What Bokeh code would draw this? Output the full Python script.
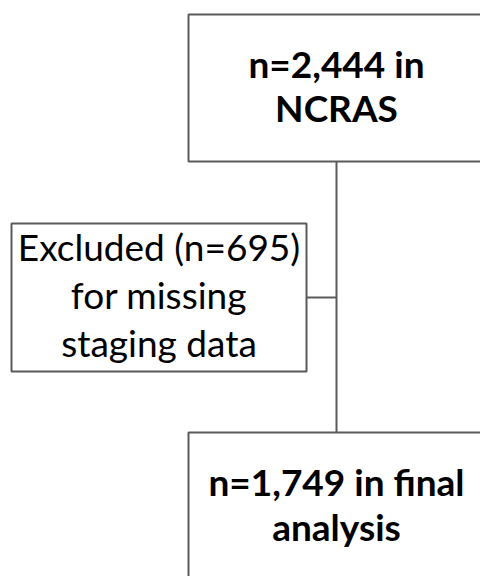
from bokeh.plotting import figure
from bokeh.models import Range1d
from bokeh.core.properties import value
from bokeh.embed import file_html
from bokeh.resources import INLINE

# Data
n_total = 2444
n_excluded = 695
n_final = 1749
source_name = "NCRAS"

top_lines = [f"n={n_total:,} in", source_name]
left_lines = [f"Excluded (n={n_excluded})", "for missing", "staging data"]
bottom_lines = [f"n={n_final:,} in final", "analysis"]

W, H = 480, 576
p = figure(width=W, height=H, output_backend="svg", toolbar_location=None,
           x_range=Range1d(0, W), y_range=Range1d(H, 0),
           min_border=0, outline_line_color=None)
p.axis.visible = False
p.grid.visible = False
p.background_fill_color = "white"
p.border_fill_color = "white"

LC = "#5a5a5a"
LW = 2

# connectors
p.segment(x0=[336, 306], y0=[161, 297], x1=[336, 336], y1=[432, 297],
          line_color=LC, line_width=LW)

# boxes
p.quad(left=[188, 11, 188], right=[500, 306, 500], top=[14, 223, 432],
       bottom=[161, 371, 620], fill_color="white", line_color=LC, line_width=LW)

font = value("Lato")
p.text(x=[336] * 2, y=[63, 107], text=top_lines, text_font=font,
       text_font_style="bold", text_font_size="37px", text_align="center",
       text_baseline="alphabetic", text_color="black")
p.text(x=[158.5] * 3, y=[246, 294, 342], text=left_lines, text_font=font,
       text_font_size="37px", text_align="center",
       text_baseline="alphabetic", text_color="black")
p.text(x=[336] * 2, y=[481, 526], text=bottom_lines, text_font=font,
       text_font_style="bold", text_font_size="37px", text_align="center",
       text_baseline="alphabetic", text_color="black")

open("out.html", "w").write(file_html(p, INLINE))
